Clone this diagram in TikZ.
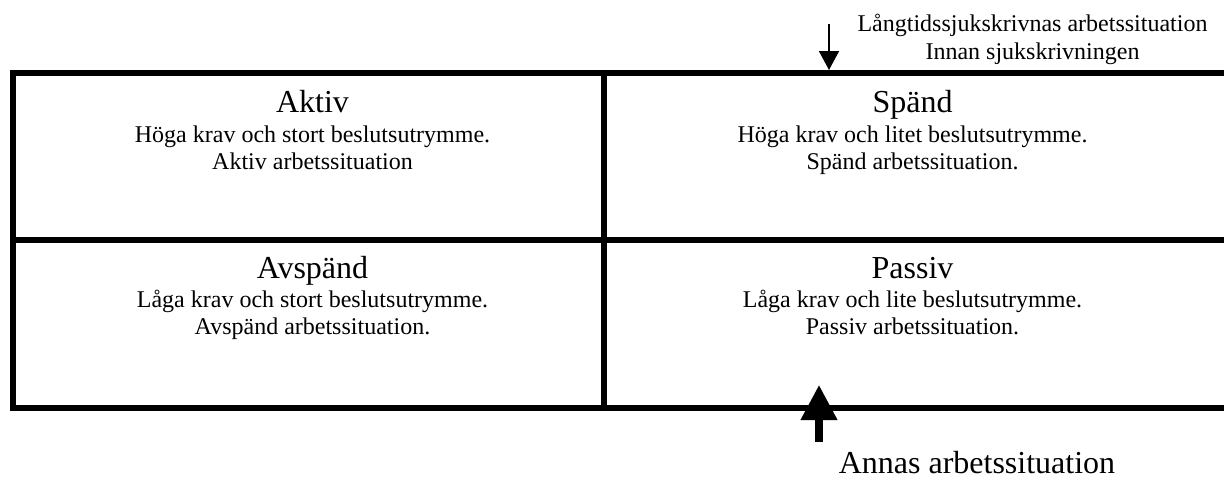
\documentclass[tikz,border=0pt]{standalone}
\usepackage{fontspec}
\setmainfont{Liberation Serif}
\usetikzlibrary{arrows.meta}
\begin{document}
\begin{tikzpicture}[x=0.5pt,y=-0.5pt,
  frame/.style={line width=3pt,line join=miter,line cap=rect},
  ttl/.style={anchor=base,inner sep=0pt,font=\fontsize{16}{18.4}\selectfont},
  txt/.style={anchor=base,inner sep=0pt,font=\fontsize{12}{13.8}\selectfont},
  big/.style={anchor=base,inner sep=0pt,font=\fontsize{16}{18.4}\selectfont}]
\useasboundingbox (0,0) rectangle (1224,483);
\fill[white] (0,0) rectangle (1224,483);
% frame
\coordinate (tl) at (13,72.5);
\coordinate (tr) at (1226,72.5);
\coordinate (bl) at (13,408);
\coordinate (br) at (1226,408);
\coordinate (ml) at (13,240);
\coordinate (mr) at (1226,240);
\coordinate (mt) at (603.5,72.5);
\coordinate (mb) at (603.5,408);
\draw[frame] (tr) -- (tl) -- (bl) -- (br);
\draw[frame] (ml) -- (mr);
\draw[frame] (mt) -- (mb);
% cells
\node[ttl] (aktiv) at (312.5,112) {Aktiv};
\node[txt] (aktiv1) at (312.5,142) {Höga krav och stort beslutsutrymme.};
\node[txt] (aktiv2) at (312.5,169.6) {Aktiv arbetssituation};
\node[ttl] (spand) at (912.5,112) {Spänd};
\node[txt] (spand1) at (912.5,142) {Höga krav och litet beslutsutrymme.};
\node[txt] (spand2) at (912.5,169.6) {Spänd arbetssituation.};
\node[ttl] (avspand) at (312.5,278) {Avspänd};
\node[txt] (avspand1) at (312.5,307) {Låga krav och stort beslutsutrymme.};
\node[txt] (avspand2) at (312.5,334.6) {Avspänd arbetssituation.};
\node[ttl] (passiv) at (912.5,278) {Passiv};
\node[txt] (passiv1) at (912.5,307) {Låga krav och lite beslutsutrymme.};
\node[txt] (passiv2) at (912.5,334.6) {Passiv arbetssituation.};
% top label and arrow
\node[txt] (lang1) at (1032.5,31.7) {Långtidssjukskrivnas arbetssituation};
\node[txt] (lang2) at (1032.5,59.3) {Innan sjukskrivningen};
\coordinate (ta1) at (829,24);
\coordinate (ta2) at (829,70);
\draw[line width=0.8pt,-{Triangle[width=10pt,length=9.5pt]}] (ta1) -- (ta2);
% bottom label and arrow
\node[big] (anna) at (977,473) {Annas arbetssituation};
\coordinate (ba1) at (819,442);
\coordinate (ba2) at (819,385);
\draw[line width=3.6pt,-{Triangle[width=17.5pt,length=17.5pt]}] (ba1) -- (ba2);
\end{tikzpicture}
\end{document}
